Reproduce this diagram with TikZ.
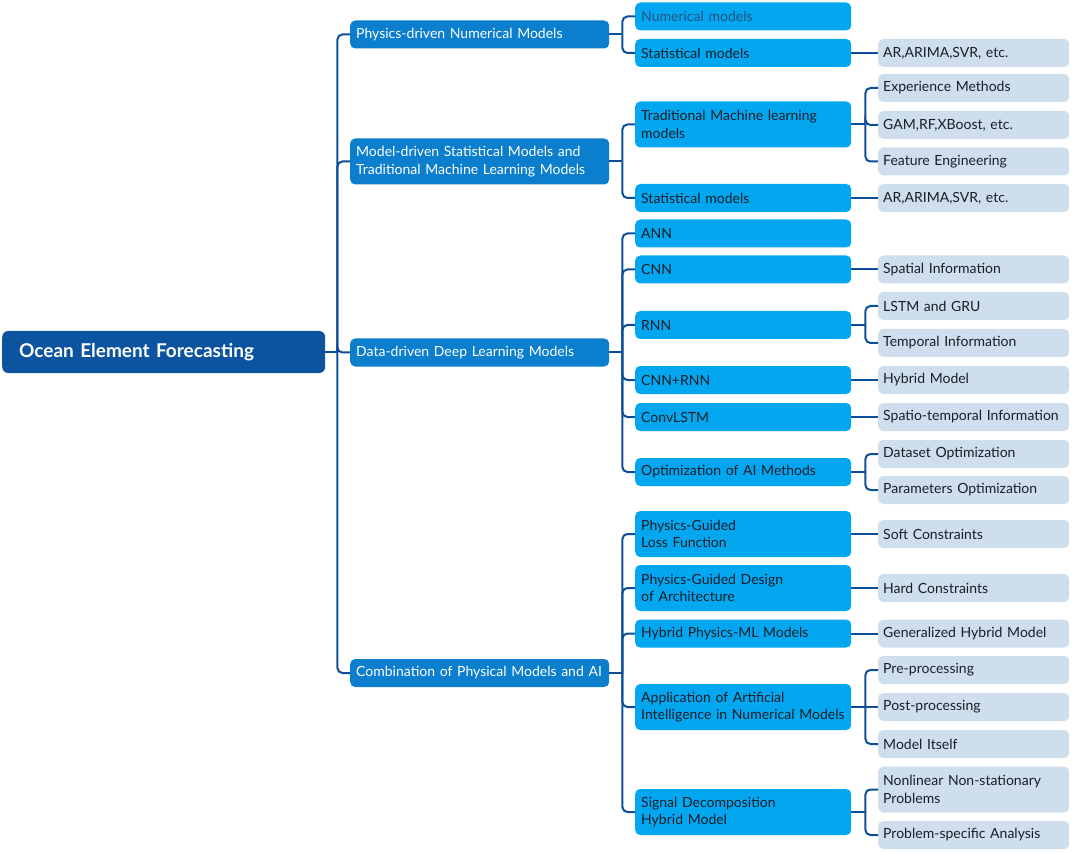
\documentclass[tikz,border=0pt]{standalone}
\usepackage{fontspec}
\setmainfont{Lato}
\usetikzlibrary{calc}

\definecolor{rootblue}{RGB}{12,84,160}
\definecolor{midblue}{RGB}{11,126,206}
\definecolor{skyblue}{RGB}{3,167,240}
\definecolor{paleblue}{RGB}{207,222,236}
\definecolor{linkblue}{RGB}{14,78,152}
\definecolor{inkdark}{RGB}{25,30,40}
\definecolor{numink}{RGB}{40,82,130}

\tikzset{
  link/.style={draw=linkblue, line width=2pt, rounded corners=5pt},
  rootbox/.style={fill=rootblue, text=white, rounded corners=6pt, anchor=west,
    align=left, font=\bfseries\fontsize{19}{23}\selectfont,
    inner xsep=17pt, text width=289pt, minimum height=42pt},
  topicbox/.style={fill=midblue, text=white, rounded corners=5pt, anchor=west,
    align=left, font=\fontsize{14}{17.5}\selectfont,
    inner xsep=6pt, text width=247pt, minimum height=28pt},
  methodbox/.style={topicbox, fill=skyblue, text=inkdark, text width=204pt},
  leafbox/.style={topicbox, fill=paleblue, text=inkdark, inner xsep=5pt, text width=181pt},
  tall/.style={minimum height=46pt}
}

\begin{document}
\begin{tikzpicture}[x=1pt, y=-1pt]
  \useasboundingbox (0,0) rectangle (1072,853);

  % the root and the four approaches
  \node [rootbox] (root) at (2,352) {Ocean Element Forecasting};
  \node [topicbox] (phys) at (350,34.5) {Physics-driven Numerical Models};
  \node [topicbox,tall] (model) at (350,161.5) {Model-driven Statistical Models and\\Traditional Machine Learning Models};
  \node [topicbox] (data) at (350,352.5) {Data-driven Deep Learning Models};
  \node [topicbox] (comb) at (350,673) {Combination of Physical Models and AI};

  % the methods
  \node [methodbox,text=numink] (num) at (635,16.5) {Numerical models};
  \node [methodbox] (stat1) at (635,53) {Statistical models};
  \node [methodbox,tall] (trad) at (635,124.5) {Traditional Machine learning\\models};
  \node [methodbox] (stat2) at (635,198) {Statistical models};
  \node [methodbox] (ann) at (635,233.5) {ANN};
  \node [methodbox] (cnn) at (635,269.5) {CNN};
  \node [methodbox] (rnn) at (635,325) {RNN};
  \node [methodbox] (cnnrnn) at (635,380) {CNN+RNN};
  \node [methodbox] (convlstm) at (635,417) {ConvLSTM};
  \node [methodbox] (optai) at (635,472) {Optimization of AI Methods};
  \node [methodbox,tall] (pgloss) at (635,534) {Physics-Guided\\Loss Function};
  \node [methodbox,tall] (pgdesign) at (635,588) {Physics-Guided Design\\of Architecture};
  \node [methodbox] (hybml) at (635,633.5) {Hybrid Physics-ML Models};
  \node [methodbox,tall] (appai) at (635,707) {Application of Artificial\\Intelligence in Numerical Models};
  \node [methodbox,tall] (signal) at (635,812) {Signal Decomposition\\Hybrid Model};

  % the details
  \node [leafbox] (arima1) at (878,53) {AR,ARIMA,SVR, etc.};
  \node [leafbox] (exp) at (878,88) {Experience Methods};
  \node [leafbox] (gam) at (878,125) {GAM,RF,XBoost, etc.};
  \node [leafbox] (feat) at (878,161.5) {Feature Engineering};
  \node [leafbox] (arima2) at (878,198) {AR,ARIMA,SVR, etc.};
  \node [leafbox] (spatial) at (878,269.5) {Spatial Information};
  \node [leafbox] (lstm) at (878,306) {LSTM and GRU};
  \node [leafbox] (temporal) at (878,343) {Temporal Information};
  \node [leafbox] (hybrid) at (878,380) {Hybrid Model};
  \node [leafbox] (spatiotemp) at (878,417) {Spatio-temporal Information};
  \node [leafbox] (dataset) at (878,454) {Dataset Optimization};
  \node [leafbox] (params) at (878,490) {Parameters Optimization};
  \node [leafbox] (soft) at (878,534) {Soft Constraints};
  \node [leafbox] (hard) at (878,588) {Hard Constraints};
  \node [leafbox] (genhyb) at (878,633.5) {Generalized Hybrid Model};
  \node [leafbox] (pre) at (878,670) {Pre-processing};
  \node [leafbox] (post) at (878,707) {Post-processing};
  \node [leafbox] (itself) at (878,744) {Model Itself};
  \node [leafbox,tall] (nonlin) at (878,789.5) {Nonlinear Non-stationary\\Problems};
  \node [leafbox] (probspec) at (878,835) {Problem-specific Analysis};

  % the brackets from each parent to its children
  \coordinate (j0) at ($ (root.east) + (12,0) $);
  \draw [link] (root.east) -- (j0);
  \foreach \c in {phys,model,data,comb}
    \draw [link] (j0) |- (\c.west);

  \foreach \p/\kids/\dx in {phys/{num,stat1}/13, model/{trad,stat2}/13,
      data/{ann,cnn,rnn,cnnrnn,convlstm,optai}/13,
      comb/{pgloss,pgdesign,hybml,appai,signal}/13,
      trad/{exp,gam,feat}/14, rnn/{lstm,temporal}/14,
      optai/{dataset,params}/14, appai/{pre,itself}/14,
      signal/{nonlin,probspec}/14} {
    \coordinate (j-\p) at ($ (\p.east) + (\dx,0) $);
    \draw [link] (\p.east) -- (j-\p);
    \foreach \c in \kids
      \draw [link] (j-\p) |- (\c.west);
  }

  % the single children sit level with their parents
  \foreach \p/\c in {stat1/arima1, stat2/arima2, cnn/spatial, cnnrnn/hybrid,
      convlstm/spatiotemp, pgloss/soft, pgdesign/hard, hybml/genhyb, appai/post}
    \draw [link] (\p.east) -- (\c.west);
\end{tikzpicture}
\end{document}
